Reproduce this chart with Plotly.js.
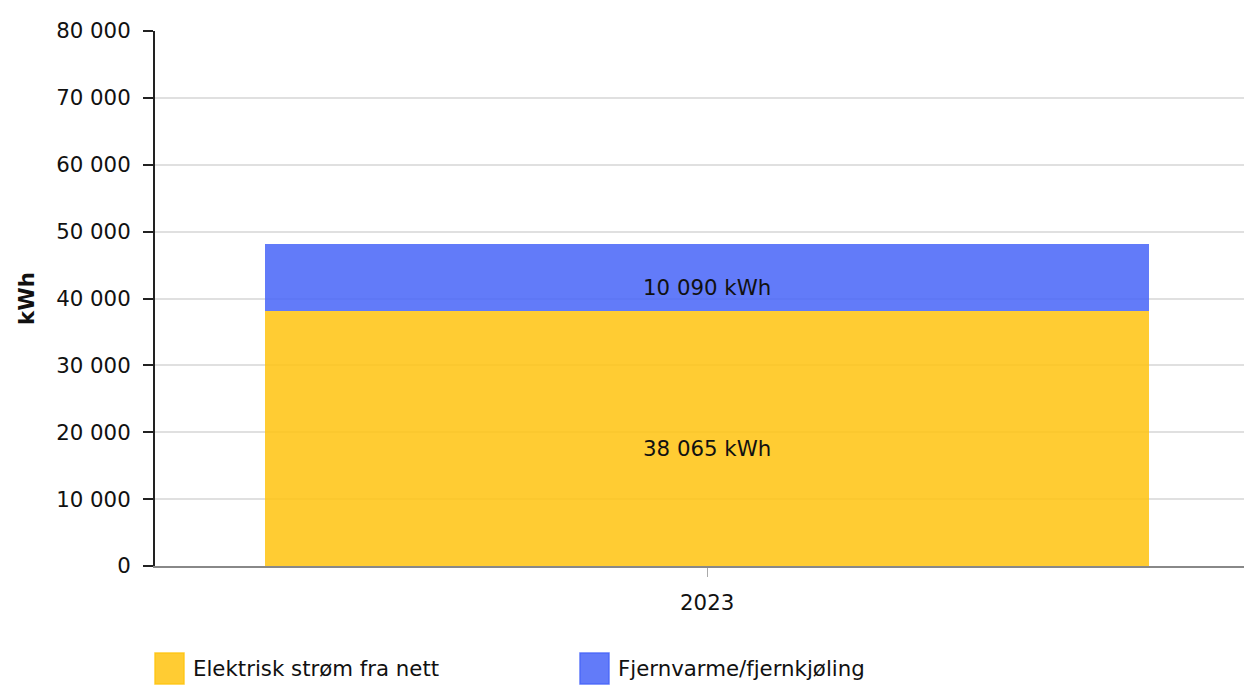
<!DOCTYPE html>
<html>
<head>
<meta charset="utf-8">
<script src="https://cdn.plot.ly/plotly-3.0.1.min.js"></script>
<style>html,body{margin:0;padding:0;background:#fff;}#chart{width:1244px;height:685px;}</style>
</head>
<body>
<div id="chart"></div>
<script>
const categories = ['2023'];
const seriesNames = ['Elektrisk strøm fra nett', 'Fjernvarme/fjernkjøling'];
const elektrisk = [38065];
const fjernvarme = [10090];
const yTickVals = [0, 10000, 20000, 30000, 40000, 50000, 60000, 70000, 80000];
const colors = ['rgba(255,195,15,0.85)', 'rgba(70,100,248,0.85)'];

const FS = 21.3;
const fmt = v => v.toString().replace(/\B(?=(\d{3})+(?!\d))/g, ' ') + ' kWh';
const seriesValues = [elektrisk, fjernvarme];

const traces = seriesValues.map((vals, i) => ({
  type: 'bar',
  name: seriesNames[i],
  x: categories,
  y: vals,
  width: 0.812,
  marker: {color: colors[i], line: {width: 0}},
  text: vals.map(v => '<span style="font-size:12px"> </span><br>' + fmt(v)),
  textposition: 'inside',
  insidetextanchor: 'middle',
  textangle: 0,
  constraintext: 'none',
  textfont: {family: 'DejaVu Sans', size: FS, color: '#111'},
  hoverinfo: 'none',
  showlegend: false
}));

const plotH = 685 - 31 - 119;
const plotW = 1089;
const legendShapes = [];
const legendAnnots = [];
const legendX = [155, 580];
seriesNames.forEach((n, i) => {
  legendShapes.push({type: 'rect', xref: 'paper', yref: 'paper',
    x0: (legendX[i] - 155) / plotW, x1: (legendX[i] + 29 - 155) / plotW,
    y0: -(653 - 566) / plotH, y1: -(684 - 566) / plotH,
    fillcolor: colors[i], line: {width: 1.5, color: colors[i]}});
  legendAnnots.push({xref: 'paper', yref: 'paper', x: (legendX[i] + 36 - 155) / plotW,
    y: -(668 - 566) / plotH,
    xanchor: 'left', yanchor: 'middle', text: n, showarrow: false,
    font: {family: 'DejaVu Sans', size: FS, color: '#111'}});
});

const layout = {
  width: 1244, height: 685,
  margin: {l: 155, r: 0, t: 31, b: 119},
  paper_bgcolor: '#fff', plot_bgcolor: '#fff',
  separators: ', ',
  barmode: 'stack',
  font: {family: 'DejaVu Sans', size: FS, color: '#111'},
  xaxis: {
    type: 'category', range: [-0.507, 0.493],
    showgrid: false, zeroline: false,
    showline: true, linecolor: '#888', linewidth: 2,
    ticks: 'outside', ticklen: 9, tickcolor: '#aaa', tickwidth: 1,
    ticklabelstandoff: 7,
    tickfont: {family: 'DejaVu Sans', size: FS, color: '#111'}
  },
  yaxis: {
    range: [0, 80000], tickvals: yTickVals, tickformat: ',d',
    showgrid: true, gridcolor: '#e0e0e0', gridwidth: 2,
    zeroline: false,
    showline: true, linecolor: '#222', linewidth: 2,
    ticks: 'outside', ticklen: 10, tickcolor: '#222', tickwidth: 2,
    ticklabelstandoff: 8,
    tickfont: {family: 'DejaVu Sans', size: FS, color: '#111'},
    title: {text: '<b>kWh</b>', font: {family: 'DejaVu Sans', size: FS, color: '#111'}, standoff: 16}
  },
  shapes: legendShapes,
  annotations: legendAnnots
};

Plotly.newPlot('chart', traces, layout, {displayModeBar: false, staticPlot: true});
</script>
</body>
</html>
